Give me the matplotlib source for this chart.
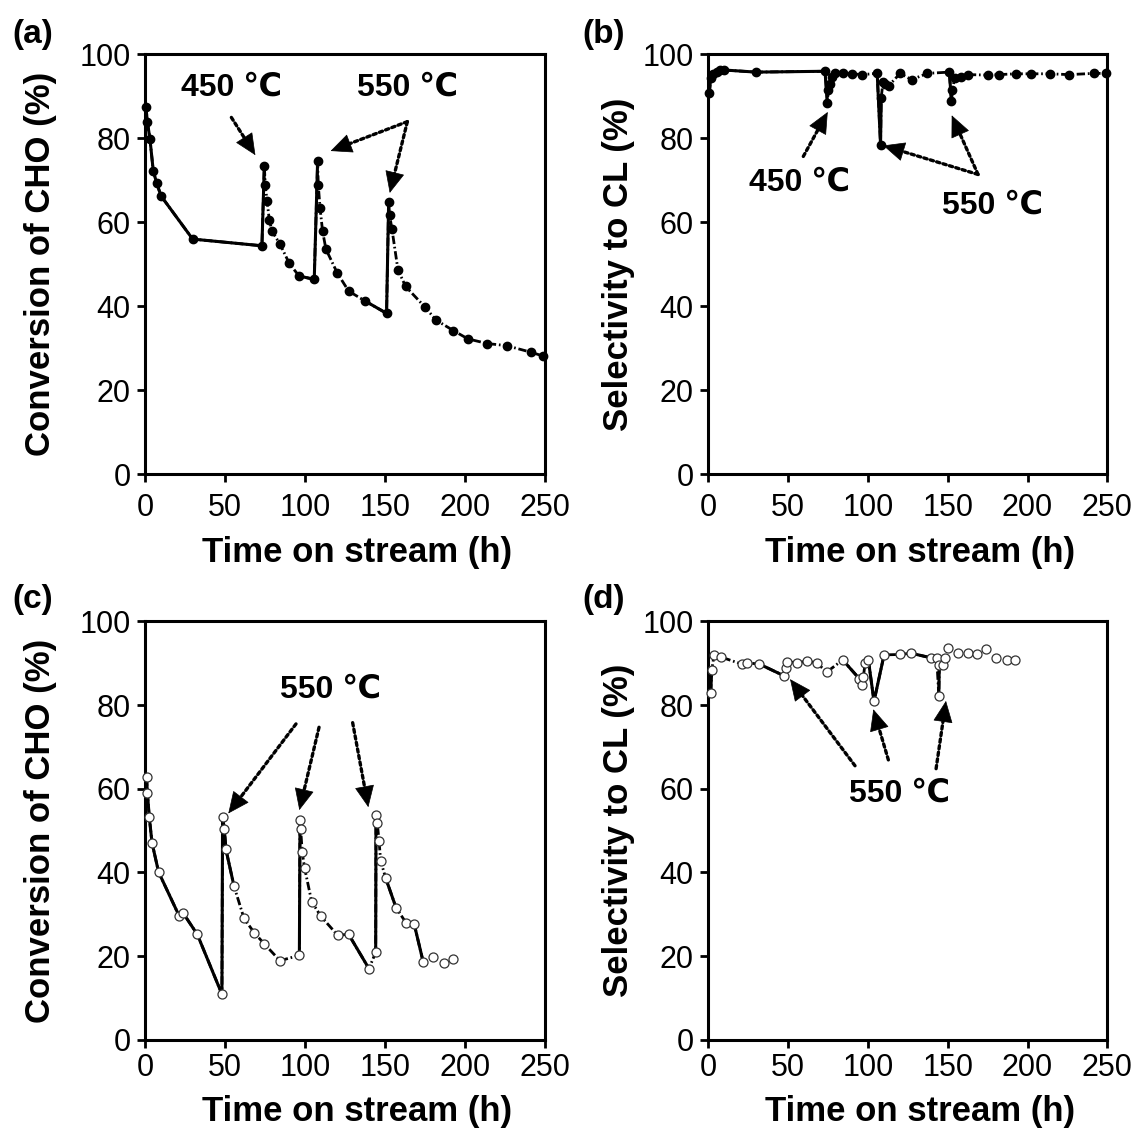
import matplotlib
matplotlib.use('Agg')
import matplotlib.pyplot as plt
import numpy as np

plt.rcParams['font.family'] = ['Liberation Sans', 'DejaVu Sans']

# ==============================================================================
#  DATA
# ==============================================================================

# (a)/(b): catalyst with 450 / 550 C regenerations
T_AB = [0.6, 1.5, 3.1, 5.2, 7.3, 10, 29.8, 73.1, 74.6, 75.2, 76.3, 77.7, 79.4,
        84.4, 90.2, 96.3, 105.8, 107.9, 108.3, 109.4, 111, 113.1, 120.2, 127.3,
        137.3, 151, 152.3, 152.9, 154.4, 158.1, 162.9, 175, 181.9, 192.7, 201.9,
        214, 226, 241.5, 249]
CONV_A = [87.5, 83.9, 79.9, 72.2, 69.4, 66.3, 56.0, 54.4, 73.5, 68.8, 65.1, 60.6,
          57.9, 54.8, 50.2, 47.2, 46.4, 74.5, 69.0, 63.5, 57.9, 53.6, 47.9, 43.6,
          41.3, 38.3, 64.8, 61.7, 58.3, 48.7, 44.7, 39.8, 36.7, 34.2, 32.2, 31.1,
          30.6, 29.0, 28.1]
SEL_B = [90.8, 94.5, 95.3, 95.8, 96.2, 96.3, 95.8, 96.0, 88.4, 91.6, 93.0, 94.6,
         95.6, 95.5, 95.4, 95.2, 95.5, 78.5, 89.6, 93.4, 93.0, 92.6, 95.5, 94.0,
         95.5, 95.8, 89.0, 91.6, 94.5, 94.7, 95.2, 95.1, 95.2, 95.4, 95.4, 95.4,
         95.2, 95.5, 95.5]

# (c): catalyst with three 550 C regenerations
T_C = [1.0, 1.5, 2.7, 4.4, 8.5, 21.5, 24, 32.7, 48.1, 48.5, 49.6, 50.6, 55.6,
       61.9, 68.3, 74.4, 84.4, 96.5, 96.9, 97.3, 98.3, 99.8, 104.2, 110, 120.4,
       127.3, 140, 144.2, 144.4, 145.2, 146.3, 147.3, 150.4, 156.9, 163.1, 168.3,
       173.9, 180.2, 186.9, 192.3]
CONV_C = [62.7, 59.1, 53.2, 47.1, 40.1, 29.5, 30.2, 25.2, 10.9, 53.2, 50.4, 45.5,
          36.8, 29.0, 25.6, 23.0, 18.9, 20.2, 52.5, 50.4, 44.8, 41.0, 33.0, 29.5,
          25.0, 25.2, 17.0, 20.9, 53.7, 51.8, 47.5, 42.8, 38.7, 31.6, 28.0, 27.6,
          18.6, 19.7, 18.4, 19.3]

# (d)
T_D = [1.5, 2.1, 3.6, 7.8, 20.9, 24.1, 32, 47.4, 48.7, 49.5, 55.4, 61.6, 67.9,
       74.2, 84.2, 94.6, 96.5, 97.1, 98.2, 100.3, 103.8, 110.1, 120.1, 127, 139.5,
       143.1, 144.4, 144.7, 146.8, 148.3, 150.4, 156.6, 162.9, 168.2, 174, 180.3,
       187, 192.2]
SEL_D = [83.0, 88.3, 92.0, 91.5, 89.8, 90.1, 89.8, 87.0, 88.8, 90.4, 90.1, 90.5,
         90.1, 87.9, 90.8, 86.3, 84.8, 86.6, 90.0, 90.7, 80.9, 92.0, 92.1, 92.4,
         91.3, 91.3, 82.2, 89.5, 89.5, 91.2, 93.7, 92.5, 92.5, 92.1, 93.3, 91.3,
         90.8, 90.8]

# annotations: (label, text position, [(arrow start, arrow tip), ...])
ANN_A = [('450 ℃', (54, 92), [((54, 85), (69, 76))]),
         ('550 ℃', (164, 92), [((164, 84), (116, 77)), ((164, 84), (153, 67))])]
ANN_B = [('450 ℃', (57, 69.5), [((59.5, 75.7), (74.8, 86.3))]),
         ('550 ℃', (178, 64), [((169, 71.4), (109.6, 78.3)), ((169, 71.4), (152.5, 85.5))])]
ANN_C = [('550 ℃', (116, 83.6), [((94.4, 75.5), (52.1, 54.1)), ((108.8, 74.7), (96.5, 54.9)),
                                ((129.8, 75.8), (139.6, 55.6))])]
ANN_D = [('550 ℃', (120, 58.8), [((91.9, 65.5), (51.2, 86.2)), ((112.8, 66.9), (103.4, 79.0)),
                                ((142.7, 64.8), (148.9, 81.0))])]

# ==============================================================================
#  FIGURE
# ==============================================================================

fig = plt.figure(figsize=(11.37, 11.40), dpi=100)
RECTS = {'a': [0.1275, 0.5842, 0.3518, 0.368], 'b': [0.623, 0.5842, 0.3509, 0.368],
         'c': [0.1275, 0.0879, 0.3518, 0.367], 'd': [0.623, 0.0879, 0.3509, 0.367]}
DASHDOT = (3, 1, 0.6, 1)


def setup(ax, ylabel, lab_x, top_row):
    ax.set_xlim(0, 250)
    ax.set_ylim(0, 100)
    ax.set_xticks(range(0, 251, 50))
    ax.set_yticks(range(0, 101, 20))
    for s in ax.spines.values():
        s.set_linewidth(2.2)
    ax.tick_params(direction='out', length=5.5, width=2, labelsize=22)
    ax.tick_params(axis='y', pad=5)
    ax.tick_params(axis='x', pad=8 if top_row else 4)
    ax.set_xlabel('Time on stream (h)', fontsize=25, fontweight='bold')
    ax.set_ylabel(ylabel, fontsize=25, fontweight='bold')
    ax.xaxis.set_label_coords(0.53, -0.148 if top_row else -0.133)
    ax.yaxis.set_label_coords(lab_x, 0.5)


def draw(ax, t, y, solid, last, filled):
    t, y = np.asarray(t), np.asarray(y)
    ax.plot(t[:last + 1], y[:last + 1], color='k', lw=2, dashes=DASHDOT, zorder=2)
    for i0, i1 in solid:
        ax.plot(t[i0:i1 + 1], y[i0:i1 + 1], color='k', lw=2.2, zorder=2)
    if filled:
        ax.plot(t, y, 'o', ms=6, mfc='k', mec='k', zorder=3, clip_on=False)
    else:
        ax.plot(t, y, 'o', ms=6.5, mfc='white', mec='#333333', mew=0.9, zorder=3,
                clip_on=False)


def annotate(ax, anns):
    for text, pos, arrows in anns:
        ax.text(pos[0], pos[1], text, fontsize=23, fontweight='bold',
                ha='center', va='center')
        for start, tip in arrows:
            # dotted shaft
            ax.annotate('', xy=tip, xytext=start,
                        arrowprops=dict(arrowstyle='-', linestyle=(0, (1, 1)), lw=2.4,
                                        color='k', shrinkA=0, shrinkB=8))
            # solid head
            back = (tip[0] - 0.05 * (tip[0] - start[0]), tip[1] - 0.05 * (tip[1] - start[1]))
            ax.annotate('', xy=tip, xytext=back,
                        arrowprops=dict(arrowstyle='-|>,head_length=0.55,head_width=0.25',
                                        lw=0.5, color='k', mutation_scale=26,
                                        shrinkA=0, shrinkB=0))


ax_a = fig.add_axes(RECTS['a'])
setup(ax_a, 'Conversion of CHO (%)', -0.22, True)
draw(ax_a, T_AB, CONV_A, [(0, 8), (15, 17), (24, 26)], len(T_AB) - 1, True)
annotate(ax_a, ANN_A)

ax_b = fig.add_axes(RECTS['b'])
setup(ax_b, 'Selectivity to CL (%)', -0.185, True)
draw(ax_b, T_AB, SEL_B, [(0, 8), (16, 18), (25, 27)], len(T_AB) - 1, True)
annotate(ax_b, ANN_B)

ax_c = fig.add_axes(RECTS['c'])
setup(ax_c, 'Conversion of CHO (%)', -0.22, False)
draw(ax_c, T_C, CONV_C, [(0, 12), (17, 18), (25, 26), (27, 28), (32, 33), (35, 36)], 36, False)
annotate(ax_c, ANN_C)

ax_d = fig.add_axes(RECTS['d'])
setup(ax_d, 'Selectivity to CL (%)', -0.185, False)
draw(ax_d, T_D, SEL_D, [(0, 1), (6, 7), (14, 15), (19, 21), (23, 24), (26, 27)], 29, False)
annotate(ax_d, ANN_D)

for lab, x, y in [('(a)', 0.011, 0.970), ('(b)', 0.512, 0.970),
                  ('(c)', 0.011, 0.474), ('(d)', 0.512, 0.474)]:
    fig.text(x, y, lab, fontsize=24, fontweight='bold', ha='left', va='center')

fig.savefig('out.png', dpi=100)
